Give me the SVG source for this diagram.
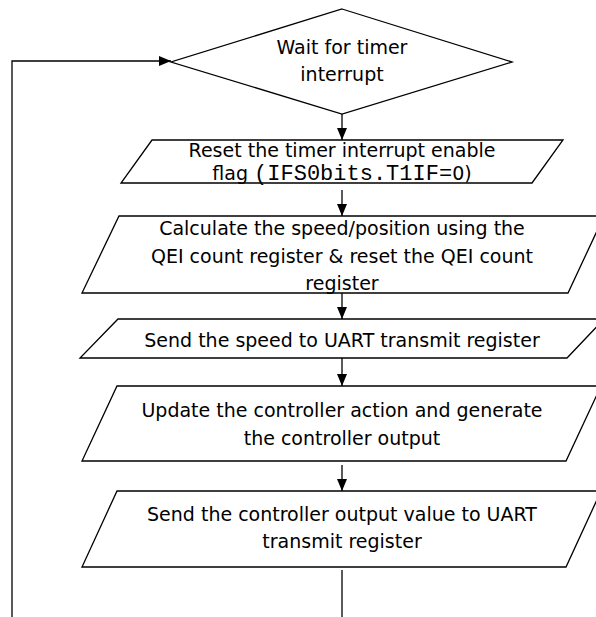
<svg xmlns="http://www.w3.org/2000/svg" width="596" height="617" viewBox="0 0 596 617">
<style>
.shape{fill:#fff;stroke:#000;stroke-width:1.3}
.conn{fill:none;stroke:#000;stroke-width:1.3}
text{font-family:"DejaVu Sans",Verdana,sans-serif;font-size:19px;fill:#000;text-anchor:middle}
.mono{font-family:"Liberation Mono","Courier New",monospace;font-size:22px}
</style>
<defs>
<marker id="arr" markerUnits="userSpaceOnUse" markerWidth="12" markerHeight="12" viewBox="0 0 12 12" refX="12" refY="6" orient="auto">
<path d="M0,1 L12,6 L0,11 Z" fill="#000"/>
</marker>
</defs>
<rect width="596" height="617" fill="#fff"/>
<g id="connectors">
<path class="conn" d="M12,617 V61 H171" marker-end="url(#arr)"/>
<path class="conn" d="M342,114 V140" marker-end="url(#arr)"/>
<path class="conn" d="M342,190 V216" marker-end="url(#arr)"/>
<path class="conn" d="M342,293 V319" marker-end="url(#arr)"/>
<path class="conn" d="M342,358 V386" marker-end="url(#arr)"/>
<path class="conn" d="M342,465 V491" marker-end="url(#arr)"/>
<path class="conn" d="M342,570 V617"/>
</g>
<g id="wait">
<polygon class="shape" points="342,9 512,62 342,114 171,62"/>
<text x="342" y="54">Wait for timer</text>
<text x="342" y="81">interrupt</text>
</g>
<g id="reset">
<polygon class="shape" points="152,140 563,140 532,183 121,183"/>
<text x="342" y="157">Reset the timer interrupt enable</text>
<text x="342" y="180">flag <tspan class="mono">(IFS0bits.T1IF=</tspan>0)</text>
</g>
<g id="calc">
<polygon class="shape" points="119,216 604,216 568,293 82,293"/>
<text x="342" y="235">Calculate the speed/position using the</text>
<text x="342" y="263">QEI count register &amp; reset the QEI count</text>
<text x="342" y="290">register</text>
</g>
<g id="sendspeed">
<polygon class="shape" points="118,319 604,319 567,358 80,358"/>
<text x="342" y="347">Send the speed to UART transmit register</text>
</g>
<g id="update">
<polygon class="shape" points="117,386 601,386 566,461 82,461"/>
<text x="342" y="417">Update the controller action and generate</text>
<text x="342" y="445">the controller output</text>
</g>
<g id="sendout">
<polygon class="shape" points="117,491 601,491 566,567 82,567"/>
<text x="342" y="521">Send the controller output value to UART</text>
<text x="342" y="548">transmit register</text>
</g>
</svg>
